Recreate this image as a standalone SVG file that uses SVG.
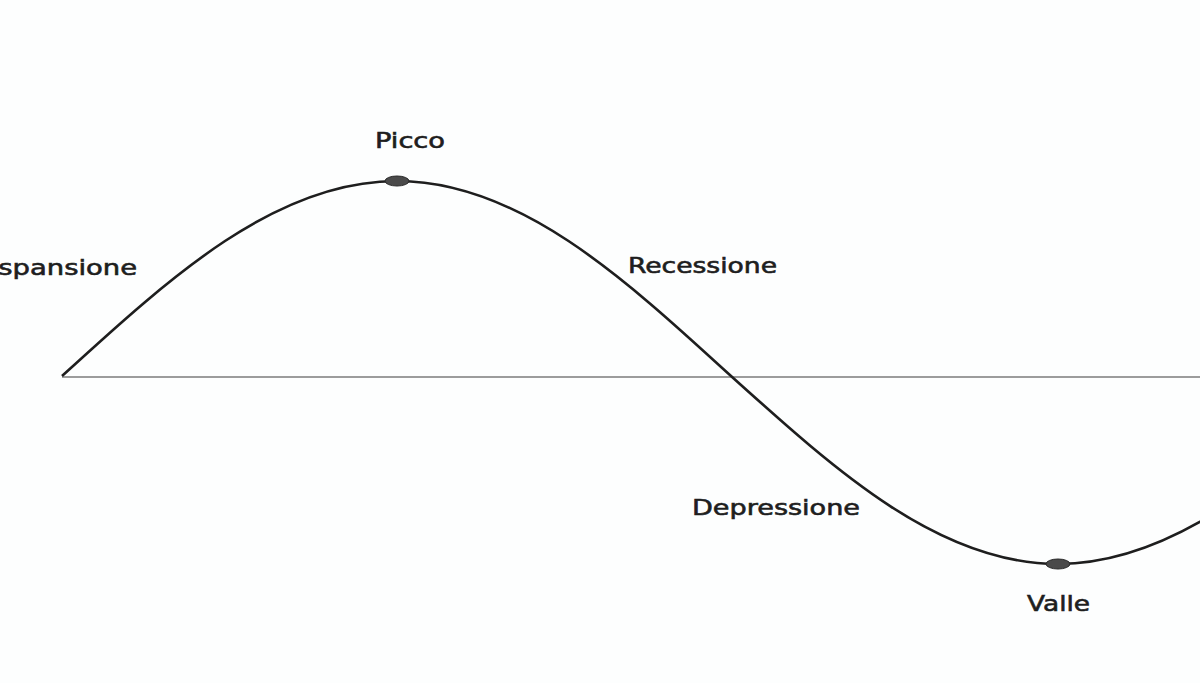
<svg xmlns="http://www.w3.org/2000/svg" width="1200" height="683" viewBox="0 0 1200 683">
<style>
.lbl{font-family:"DejaVu Sans","Liberation Sans",sans-serif;font-size:21px;fill:#1e1e1e;stroke:#1e1e1e;stroke-width:0.6;}
.dot{fill:#4a4a4a;stroke:#2a2a2a;stroke-width:1;}
</style>
<rect width="1200" height="683" fill="#fdfefe"/>
<g id="connectors">
<line id="axis" x1="62" y1="377" x2="1200" y2="377" stroke="#9c9c9c" stroke-width="2"/>
<path id="curve" d="M62,376 C171.3,276.1 275.8,181 397,181 C517.9,181 622.1,276.1 731,376 C837.7,472.3 939.7,564 1058,564 C1176.3,564 1278.3,472.3 1385,376" fill="none" stroke="#1e1e1e" stroke-width="2.6"/>
</g>
<g id="picco">
<ellipse class="dot" cx="397" cy="181" rx="12" ry="5"/>
<text class="lbl" x="375" y="148" textLength="70" lengthAdjust="spacingAndGlyphs">Picco</text>
</g>
<g id="valle">
<ellipse class="dot" cx="1058" cy="564" rx="12" ry="5"/>
<text class="lbl" x="1027" y="611" textLength="63" lengthAdjust="spacingAndGlyphs">Valle</text>
</g>
<g id="espansione">
<text class="lbl" x="-19" y="275" textLength="156" lengthAdjust="spacingAndGlyphs">Espansione</text>
</g>
<g id="recessione">
<text class="lbl" x="628" y="273" textLength="149" lengthAdjust="spacingAndGlyphs">Recessione</text>
</g>
<g id="depressione">
<text class="lbl" x="692" y="515" textLength="168" lengthAdjust="spacingAndGlyphs">Depressione</text>
</g>
</svg>
